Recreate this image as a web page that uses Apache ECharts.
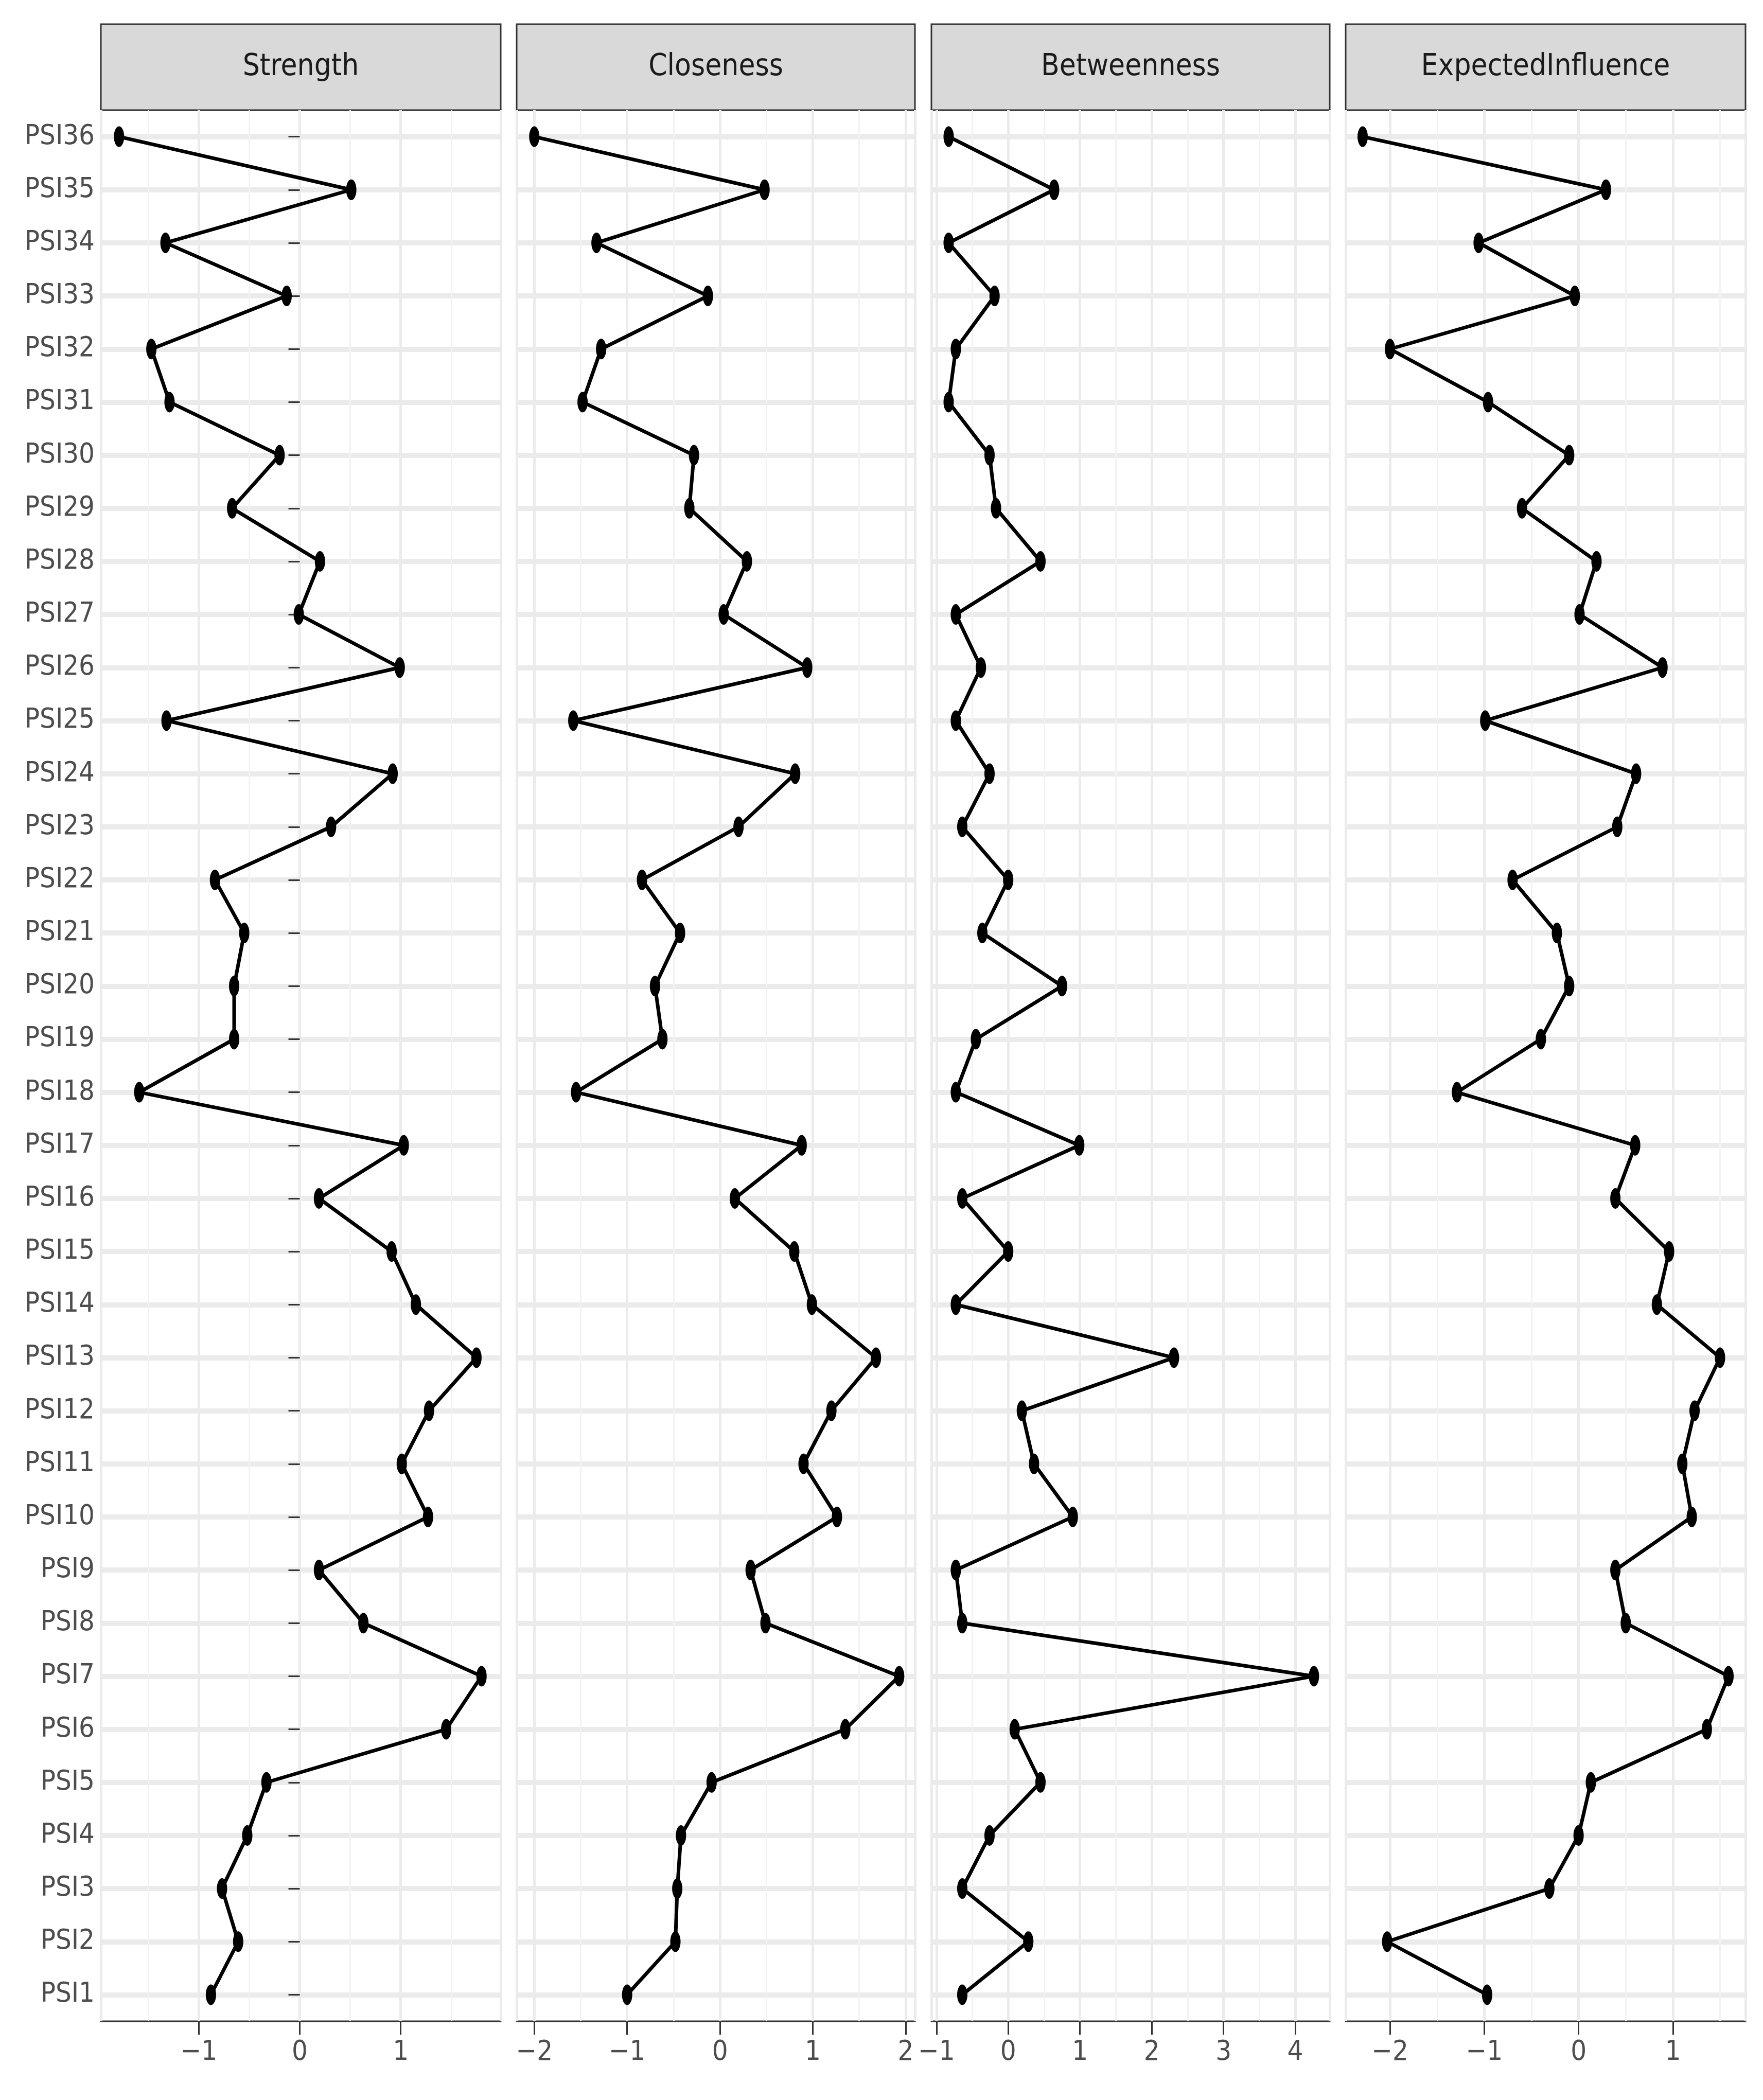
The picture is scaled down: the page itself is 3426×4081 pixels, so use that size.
<!DOCTYPE html>
<html>
<head>
<meta charset="utf-8">
<script src="https://cdn.jsdelivr.net/npm/echarts@6/dist/echarts.min.js"></script>
<style>html,body{margin:0;padding:0;background:#fff}#chart{width:3426px;height:4081px}</style>
</head>
<body>
<div id="chart"></div>
<script>
// items, bottom to top: PSI1 ... PSI36
var items = [];
for (var i = 1; i <= 36; i++) items.push('PSI' + i);

var panels = ['Strength', 'Closeness', 'Betweenness', 'ExpectedInfluence'];

// values listed PSI1 .. PSI36
var strength = [-0.88, -0.61, -0.77, -0.52, -0.33, 1.45, 1.80, 0.63, 0.19, 1.27,
  1.01, 1.28, 1.75, 1.15, 0.91, 0.19, 1.03, -1.59, -0.65, -0.65,
  -0.55, -0.84, 0.31, 0.92, -1.32, 0.99, -0.01, 0.20, -0.67, -0.20,
  -1.29, -1.47, -0.13, -1.33, 0.51, -1.79];
var closeness = [-1.00, -0.48, -0.46, -0.42, -0.09, 1.35, 1.93, 0.49, 0.33, 1.26,
  0.90, 1.20, 1.68, 0.99, 0.80, 0.16, 0.88, -1.55, -0.62, -0.70,
  -0.43, -0.84, 0.20, 0.81, -1.58, 0.94, 0.04, 0.29, -0.33, -0.28,
  -1.48, -1.28, -0.13, -1.33, 0.48, -2.00];
var betweenness = [-0.64, 0.28, -0.64, -0.26, 0.45, 0.09, 4.26, -0.64, -0.73, 0.90,
  0.36, 0.19, 2.31, -0.73, 0.00, -0.64, 0.99, -0.73, -0.45, 0.75,
  -0.36, 0.00, -0.64, -0.26, -0.73, -0.38, -0.73, 0.45, -0.17, -0.26,
  -0.83, -0.73, -0.19, -0.83, 0.64, -0.83];
var expectedInfluence = [-0.97, -2.03, -0.31, 0.00, 0.13, 1.36, 1.59, 0.50, 0.39, 1.20,
  1.10, 1.23, 1.50, 0.83, 0.96, 0.39, 0.60, -1.29, -0.40, -0.10,
  -0.23, -0.70, 0.41, 0.61, -0.99, 0.89, 0.01, 0.19, -0.60, -0.10,
  -0.96, -2.00, -0.04, -1.06, 0.29, -2.29];

var seriesValues = [strength, closeness, betweenness, expectedInfluence];
var xRanges = [[-1.97, 1.99], [-2.19, 2.10], [-1.07, 4.48], [-2.47, 1.77]];

var lefts = [196, 1004, 1810, 2615];
var widths = [777, 774, 774, 777];
var plotTop = 214, plotHeight = 3714, stripTop = 47;
var font = '"Liberation Sans Narrow", "DejaVu Sans Condensed", "Liberation Sans", sans-serif';

var grids = [], xAxes = [], yAxes = [], series = [], graphics = [];
panels.forEach(function (name, k) {
  grids.push({left: lefts[k], top: plotTop, width: widths[k], height: plotHeight,
    show: true, borderColor: '#333', borderWidth: 3, backgroundColor: '#fff'});
  xAxes.push({
    type: 'value', gridIndex: k, min: xRanges[k][0], max: xRanges[k][1],
    minInterval: 1, maxInterval: 1,
    axisLine: {show: false},
    axisTick: {show: true, length: 26, lineStyle: {color: '#333', width: 3}},
    axisLabel: {show: true, showMinLabel: false, showMaxLabel: false, margin: 34,
      color: '#4d4d4d', fontSize: 54, fontFamily: font,
      formatter: function (v) { return v < 0 ? '\u2212' + (-v) : String(v); }},
    splitLine: {show: true, lineStyle: {color: '#ebebeb', width: 5}},
    minorTick: {show: false, splitNumber: 2},
    minorSplitLine: {show: true, lineStyle: {color: '#f2f2f2', width: 3}}
  });
  yAxes.push({
    type: 'category', gridIndex: k, data: items, boundaryGap: true,
    axisLine: {show: false},
    axisTick: {show: k === 0, alignWithLabel: true, length: 22, lineStyle: {color: '#333', width: 3}},
    axisLabel: {show: k === 0, margin: 12, color: '#4d4d4d', fontSize: 54, fontFamily: font},
    splitLine: {show: true, alignWithLabel: true, lineStyle: {color: '#ebebeb', width: 10}}
  });
  series.push({
    type: 'line', xAxisIndex: k, yAxisIndex: k,
    data: seriesValues[k].map(function (v, i) { return [v, items[i]]; }),
    symbol: 'circle', symbolSize: [20, 40], showAllSymbol: true,
    lineStyle: {color: '#000', width: 7}, itemStyle: {color: '#000'},
    animation: false, z: 5
  });
  graphics.push({
    type: 'rect', shape: {x: lefts[k], y: stripTop, width: widths[k], height: plotTop - stripTop},
    style: {fill: '#d9d9d9', stroke: '#333', lineWidth: 3}
  });
  graphics.push({
    type: 'text', x: lefts[k] + widths[k] / 2, y: (stripTop + plotTop) / 2,
    style: {text: name, fontSize: 58, fontFamily: font, fill: '#1a1a1a', align: 'center', verticalAlign: 'middle'}
  });
});

var chart = echarts.init(document.getElementById('chart'));
chart.setOption({
  backgroundColor: '#fff',
  animation: false,
  grid: grids, xAxis: xAxes, yAxis: yAxes, series: series, graphic: graphics
});
</script>
</body>
</html>
